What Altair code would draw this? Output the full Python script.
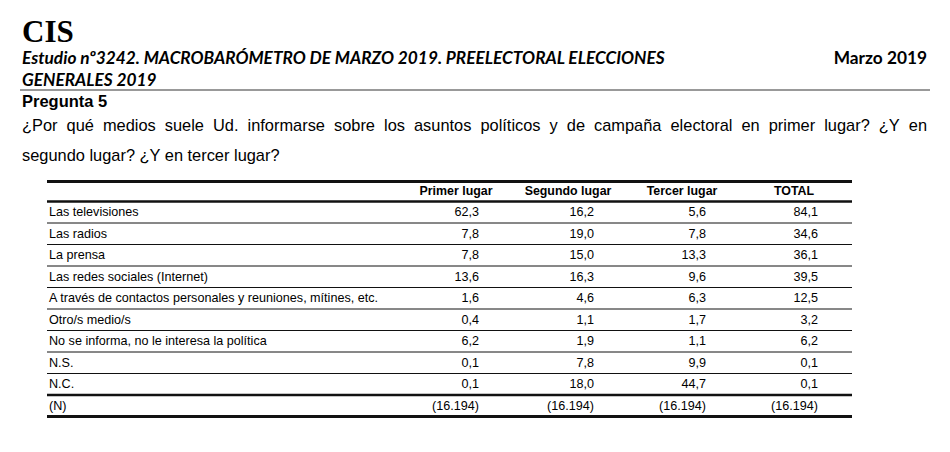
import altair as alt
import pandas as pd

# ---------------- data ----------------
categories = [
    "Las televisiones",
    "Las radios",
    "La prensa",
    "Las redes sociales (Internet)",
    "A través de contactos personales y reuniones, mítines, etc.",
    "Otro/s medio/s",
    "No se informa, no le interesa la política",
    "N.S.",
    "N.C.",
]
n_label = "(N)"
column_labels = ["Primer lugar", "Segundo lugar", "Tercer lugar", "TOTAL"]
primer = [62.3, 7.8, 7.8, 13.6, 1.6, 0.4, 6.2, 0.1, 0.1]
segundo = [16.2, 19.0, 15.0, 16.3, 4.6, 1.1, 1.9, 7.8, 18.0]
tercer = [5.6, 7.8, 13.3, 9.6, 6.3, 1.7, 1.1, 9.9, 44.7]
total = [84.1, 34.6, 36.1, 39.5, 12.5, 3.2, 6.2, 0.1, 0.1]
n_base = [16194, 16194, 16194, 16194]

title_main = "CIS"
title_study_1 = "Estudio nº3242. MACROBARÓMETRO DE MARZO 2019. PREELECTORAL ELECCIONES"
title_study_2 = "GENERALES 2019"
title_date = "Marzo 2019"
question_title = "Pregunta 5"
question_line1 = "¿Por qué medios suele Ud. informarse sobre los asuntos políticos y de campaña electoral en primer lugar? ¿Y en"
question_line2 = "segundo lugar? ¿Y en tercer lugar?"

# ---------------- layout ----------------
W, H = 934, 436
NARROW = "Liberation Sans Narrow, Arial Narrow, Liberation Sans, sans-serif"
SANS = "Liberation Sans, Arial, sans-serif"
TABLE_FONT = 12.6
HEAD_FONT = 12.4
X_LABEL = 41
COL_RIGHT = [471, 586, 698, 810]
COL_CENTER = [448, 560, 674, 786]
LINE_X0, LINE_X1 = 39, 844
Q_FONT = 16.4
Q_X0, Q_X1 = 14, 919


def fmt(v):
    return f"{v:.1f}".replace(".", ",")


def fmt_n(n):
    return "(" + f"{n:,}".replace(",", ".") + ")"


series = [primer, segundo, tercer, total]
cells = []
for c, vals in enumerate(series):
    for r, v in enumerate(vals):
        cells.append({"row": r + 0.5, "x": COL_RIGHT[c], "txt": fmt(v)})
    cells.append({"row": len(vals) + 0.5, "x": COL_RIGHT[c], "txt": fmt_n(n_base[c])})
cells_df = pd.DataFrame(cells)

labels_df = pd.DataFrame(
    {"row": [i + 0.5 for i in range(len(categories) + 1)],
     "x": X_LABEL,
     "txt": categories + [n_label]}
)
header_df = pd.DataFrame({"row": -0.49, "x": COL_CENTER, "txt": column_labels})

rule_pos = [-0.93, 0] + list(range(1, 9)) + [9, 10]
rule_w = [3, 2.5] + [1] * 8 + [2.5, 3]
rules_df = pd.DataFrame({"pos": rule_pos, "w": rule_w})

# justified first question line (Arial / Liberation Sans advance widths, 1/1000 em)
ADV = {" ": 278, "¿": 611, "?": 556, ".": 278, "P": 667, "U": 722, "Y": 667,
       "a": 556, "b": 556, "c": 500, "d": 556, "e": 556, "é": 556, "f": 278,
       "g": 556, "i": 222, "í": 278, "l": 222, "m": 833, "n": 556, "ñ": 556,
       "o": 556, "p": 556, "q": 556, "r": 333, "s": 500, "t": 278, "u": 556,
       "y": 500}
words = question_line1.split(" ")
wid = [sum(ADV.get(ch, 556) for ch in w) * Q_FONT / 1000 for w in words]
gap = (Q_X1 - Q_X0 - sum(wid)) / (len(words) - 1)
xs, cur = [], Q_X0
for w in wid:
    xs.append(cur)
    cur += w + gap
words_df = pd.DataFrame({"x": xs, "txt": words})

xs_scale = alt.Scale(domain=[0, W], range=[0, W], nice=False, zero=False)
ys_scale = alt.Scale(domain=[0, 10], range=[193.5, 408.5], nice=False, zero=False)
X = alt.X("x:Q", scale=xs_scale, axis=None)
Y = alt.Y("row:Q", scale=ys_scale, axis=None)

rules = alt.Chart(rules_df).mark_rule(color="#111").encode(
    x=alt.value(LINE_X0), x2=alt.value(LINE_X1),
    y=alt.Y("pos:Q", scale=ys_scale, axis=None),
    strokeWidth=alt.StrokeWidth("w:Q", scale=None, legend=None),
)
labels = alt.Chart(labels_df).mark_text(
    align="left", baseline="middle", font=NARROW, fontSize=TABLE_FONT, color="#000"
).encode(x=X, y=Y, text="txt:N")
numbers = alt.Chart(cells_df).mark_text(
    align="right", baseline="middle", font=NARROW, fontSize=TABLE_FONT, color="#000"
).encode(x=X, y=Y, text="txt:N")
headers = alt.Chart(header_df).mark_text(
    align="center", baseline="middle", font=NARROW, fontSize=HEAD_FONT, fontWeight="bold", color="#000"
).encode(x=X, y=Y, text="txt:N")


def label(txt, x, y, **kw):
    return alt.Chart(pd.DataFrame({"t": [txt]})).mark_text(baseline="alphabetic", **kw).encode(
        x=alt.value(x), y=alt.value(y), text="t:N")


t_cis = label(title_main, 14, 34, align="left", font="Liberation Serif", fontSize=31,
              fontWeight="bold", color="#000")
t_s1 = label(title_study_1, 14, 56, align="left", font="Lato", fontSize=17.3,
             fontWeight="bold", fontStyle="italic", color="#000")
t_s2 = label(title_study_2, 14, 78, align="left", font="Lato", fontSize=17.3,
             fontWeight="bold", fontStyle="italic", color="#000")
t_date = label(title_date, 919, 56, align="right", font="Lato", fontSize=17.3,
               fontWeight="bold", color="#000")
sep = alt.Chart(pd.DataFrame({"a": [0]})).mark_rule(color="#777", strokeWidth=1.5).encode(
    x=alt.value(12), x2=alt.value(922), y=alt.value(82))
t_q = label(question_title, 14, 99, align="left", font=SANS, fontSize=16.5,
            fontWeight="bold", color="#000")
q1 = alt.Chart(words_df).mark_text(
    align="left", baseline="alphabetic", font=SANS, fontSize=Q_FONT, color="#000"
).encode(x=X, y=alt.value(123), text="txt:N")
q2 = label(question_line2, 14, 153, align="left", font=SANS, fontSize=Q_FONT, color="#000")

chart = alt.layer(
    sep, t_cis, t_s1, t_s2, t_date, t_q, q1, q2, rules, labels, numbers, headers
).properties(
    width=W, height=H, autosize=alt.AutoSizeParams(type="none"), padding=0
).configure_view(stroke=None)

chart.save("out.html", embed_options={"renderer": "svg", "actions": False})
